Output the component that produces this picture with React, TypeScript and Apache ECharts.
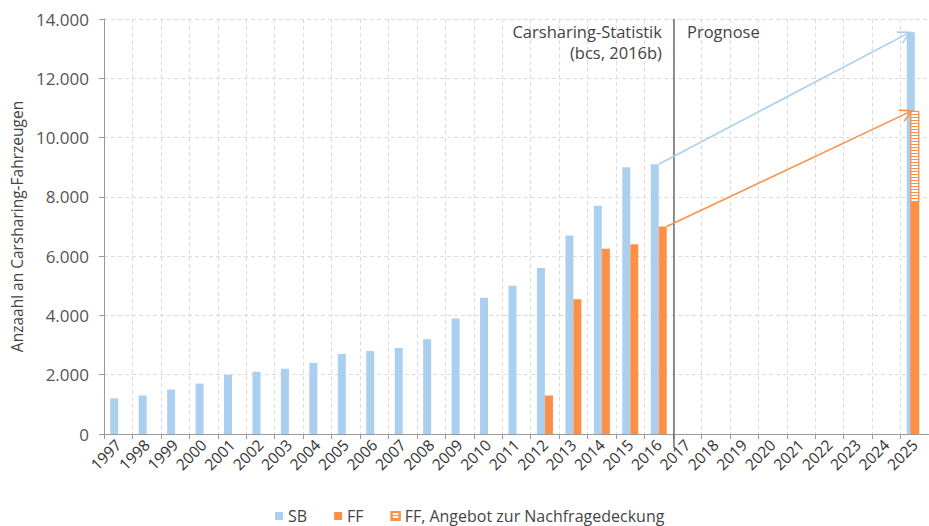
import React, { useEffect, useRef } from "react";
import * as echarts from "echarts";

const years = [
  "1997", "1998", "1999", "2000", "2001", "2002", "2003", "2004", "2005", "2006",
  "2007", "2008", "2009", "2010", "2011", "2012", "2013", "2014", "2015", "2016",
  "2017", "2018", "2019", "2020", "2021", "2022", "2023", "2024", "2025",
];
const sbValues: (number | null)[] = [
  1200, 1300, 1500, 1700, 2000, 2100, 2200, 2400, 2700, 2800,
  2900, 3200, 3900, 4600, 5000, 5600, 6700, 7700, 9000, 9100,
  null, null, null, null, null, null, null, null, 13550,
];
const ffValues: (number | null)[] = [
  null, null, null, null, null, null, null, null, null, null,
  null, null, null, null, null, 1300, 4550, 6250, 6400, 7000,
  null, null, null, null, null, null, null, null, 7800,
];
const ffAngebotValues: (number | null)[] = [
  null, null, null, null, null, null, null, null, null, null,
  null, null, null, null, null, null, null, null, null, null,
  null, null, null, null, null, null, null, null, 3100,
];
const yMin = 0;
const yMax = 14000;
const yInterval = 2000;
const lastObservedYear = "2016";
const forecastYear = "2025";
const annotationLeft = ["Carsharing-Statistik", "(bcs, 2016b)"];
const annotationRight = "Prognose";

const BLUE = "#abd0ef";
const ORANGE = "#fd9047";
const FONT = "'Open Sans', 'Noto Sans', sans-serif";

const formatDE = (v: number) => String(v).replace(/\B(?=(\d{3})+(?!\d))/g, ".");

export default function App() {
  const ref = useRef<HTMLDivElement>(null);

  useEffect(() => {
    if (!ref.current) return;
    const chart = echarts.init(ref.current, undefined, { renderer: "svg" });
    const lastIdx = years.length - 1;
    const ffObserved = ffValues.map((v, i) => (i === lastIdx ? null : v));
    const ffForecast = ffValues.map((v, i) => (i === lastIdx ? v : null));

    const xCommon = {
      type: "category" as const,
      data: years,
      boundaryGap: true,
    };

    chart.setOption({
      animation: false,
      textStyle: { fontFamily: FONT },
      grid: { left: 104, right: -3, top: 19, bottom: 92, containLabel: false },
      legend: {
        left: 275,
        top: 507,
        padding: 0,
        itemWidth: 8,
        itemHeight: 8,
        itemGap: 27,
        icon: "rect",
        textStyle: { fontSize: 16, lineHeight: 18, color: "#444", fontFamily: FONT },
        data: ["SB", "FF", "FF, Angebot zur Nachfragedeckung"],
      },
      xAxis: [
        {
          ...xCommon,
          axisLine: { lineStyle: { color: "#9a9a9a", width: 1 } },
          axisTick: { show: true, length: 5, interval: 0, lineStyle: { color: "#9a9a9a" } },
          axisLabel: {
            interval: 0,
            rotate: 45,
            fontSize: 15.5,
            color: "#333",
            margin: 8,
            fontFamily: FONT,
          },
          splitLine: {
            show: true,
            interval: 0,
            lineStyle: { color: "#dcdcdc", type: [4, 3], width: 1 },
          },
        },
        { ...xCommon, show: false },
      ],
      yAxis: {
        type: "value",
        min: yMin,
        max: yMax,
        interval: yInterval,
        name: "Anzaahl an Carsharing-Fahrzeugen",
        nameLocation: "middle",
        nameGap: 75,
        nameTextStyle: { fontSize: 15.5, color: "#444", fontFamily: FONT },
        axisLine: { show: true, lineStyle: { color: "#9a9a9a", width: 1 } },
        axisTick: { show: true, length: 5, lineStyle: { color: "#9a9a9a" } },
        axisLabel: {
          fontSize: 17,
          color: "#555",
          margin: 15,
          formatter: (v: number) => formatDE(v),
          fontFamily: FONT,
        },
        splitLine: { lineStyle: { color: "#dcdcdc", type: [4, 3], width: 1 } },
      },
      series: [
        {
          name: "SB",
          type: "bar",
          data: sbValues,
          barWidth: 8,
          barGap: "0%",
          itemStyle: { color: BLUE },
          xAxisIndex: 0,
        },
        {
          name: "FF",
          type: "bar",
          data: ffObserved,
          barWidth: 8,
          barGap: "0%",
          itemStyle: { color: ORANGE },
          xAxisIndex: 0,
        },
        {
          name: "FF",
          type: "bar",
          data: ffForecast,
          barWidth: 9,
          stack: "forecast",
          itemStyle: { color: ORANGE },
          xAxisIndex: 1,
        },
        {
          name: "FF, Angebot zur Nachfragedeckung",
          type: "bar",
          data: ffAngebotValues,
          barWidth: 9,
          stack: "forecast",
          xAxisIndex: 1,
          itemStyle: {
            color: "#ffffff",
            borderColor: ORANGE,
            borderWidth: 1,
            decal: {
              symbol: "rect",
              color: ORANGE,
              symbolSize: 1,
              dashArrayX: [[1, 0]],
              dashArrayY: [1, 2],
              rotation: 0,
            },
          },
        },
      ],
    });

    const px = (cat: string, val: number) =>
      chart.convertToPixel({ xAxisIndex: 0, yAxisIndex: 0 }, [cat, val]) as number[];

    const i16 = years.indexOf(lastObservedYear);
    const i25 = years.indexOf(forecastYear);
    const c16 = px(years[i16], 0);
    const c17 = px(years[i16 + 1], 0);
    const sepX = (c16[0] + c17[0]) / 2 + 1;
    const topY = px(years[0], yMax)[1];
    const baseY = px(years[0], yMin)[1];

    const sbStart = px(years[i16], sbValues[i16] as number);
    const sbEnd = px(years[i25], sbValues[i25] as number);
    const ffStart = px(years[i16], ffValues[i16] as number);
    const ffEnd = px(years[i25], (ffValues[i25] as number) + (ffAngebotValues[i25] as number));

    const arrow = (p0: number[], p1: number[], color: string) => {
      const ang = Math.atan2(p1[1] - p0[1], p1[0] - p0[0]);
      const L = 13;
      const a = 0.5;
      const h1 = [p1[0] - L * Math.cos(ang - a), p1[1] - L * Math.sin(ang - a)];
      const h2 = [p1[0] - L * Math.cos(ang + a), p1[1] - L * Math.sin(ang + a)];
      return [
        {
          type: "line",
          shape: { x1: p0[0], y1: p0[1], x2: p1[0], y2: p1[1] },
          style: { stroke: color, lineWidth: 1.6 },
          z: 100,
        },
        {
          type: "polyline",
          shape: { points: [h1, p1, h2] },
          style: { stroke: color, lineWidth: 1.6, fill: null },
          z: 100,
        },
      ];
    };

    const annStyle = {
      fontSize: 16.5,
      fill: "#444",
      fontFamily: FONT,
      verticalAlign: "middle",
    };

    chart.setOption({
      graphic: [
        {
          type: "line",
          shape: { x1: sepX, y1: topY, x2: sepX, y2: baseY + 14 },
          style: { stroke: "#555", lineWidth: 1.3 },
          z: 90,
        },
        {
          type: "text",
          x: sepX - 12,
          y: topY + 12,
          style: { ...annStyle, text: annotationLeft[0], align: "right" },
          z: 90,
        },
        {
          type: "text",
          x: sepX - 12,
          y: topY + 33,
          style: { ...annStyle, text: annotationLeft[1], align: "right" },
          z: 90,
        },
        {
          type: "text",
          x: sepX + 13,
          y: topY + 12,
          style: { ...annStyle, text: annotationRight, align: "left" },
          z: 90,
        },
        ...arrow(sbStart, [sbEnd[0] - 5, sbEnd[1]], BLUE),
        ...arrow([ffStart[0] + 8, ffStart[1]], [ffEnd[0] - 3, ffEnd[1]], ORANGE),
      ],
    });

    return () => chart.dispose();
  }, []);

  return (
    <div
      ref={ref}
      style={{ position: "absolute", left: 0, top: 0, width: 929, height: 526 }}
    />
  );
}
